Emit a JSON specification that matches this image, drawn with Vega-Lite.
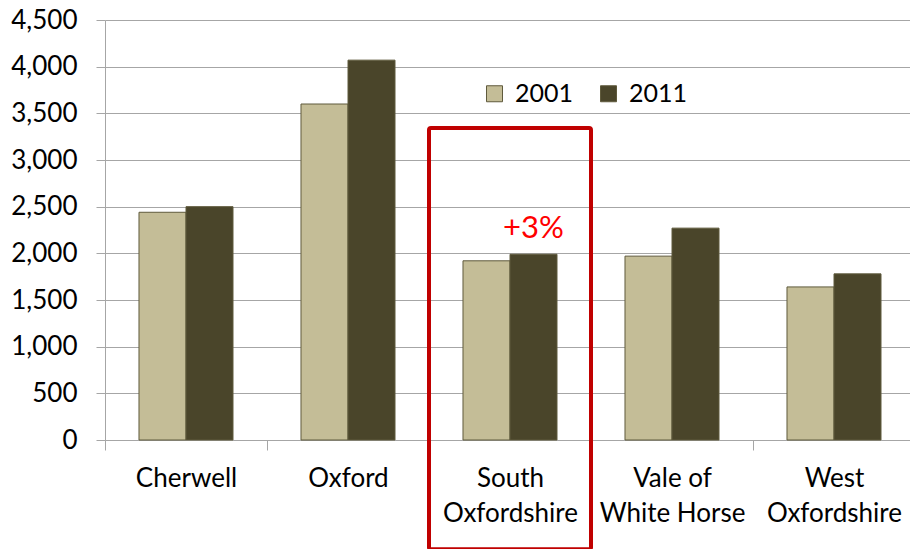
{
  "$schema": "https://vega.github.io/schema/vega-lite/v6.json",
  "width": 810,
  "height": 420,
  "autosize": {"type": "none"},
  "padding": {"left": 105, "top": 20, "right": 0, "bottom": 109},
  "background": "white",
  "config": {
    "view": {"stroke": null},
    "font": "Lato",
    "axis": {"labelFont": "Lato", "labelColor": "#000000"}
  },
  "layer": [
    {
      "data": {
        "values": [
          {"district": "Cherwell", "year": "2001", "value": 2440},
          {"district": "Cherwell", "year": "2011", "value": 2500},
          {"district": "Oxford", "year": "2001", "value": 3600},
          {"district": "Oxford", "year": "2011", "value": 4070},
          {"district": "South Oxfordshire", "year": "2001", "value": 1920},
          {"district": "South Oxfordshire", "year": "2011", "value": 1990},
          {"district": "Vale of White Horse", "year": "2001", "value": 1970},
          {"district": "Vale of White Horse", "year": "2011", "value": 2270},
          {"district": "West Oxfordshire", "year": "2001", "value": 1640},
          {"district": "West Oxfordshire", "year": "2011", "value": 1780}
        ]
      },
      "mark": {"type": "bar", "stroke": "#5f5a3c", "strokeWidth": 1},
      "encoding": {
        "x": {
          "field": "district",
          "type": "nominal",
          "sort": ["Cherwell", "Oxford", "South Oxfordshire", "Vale of White Horse", "West Oxfordshire"],
          "scale": {"paddingInner": 0, "paddingOuter": 0},
          "axis": {
            "title": null,
            "labelAngle": 0,
            "labelFontSize": 26,
            "labelLineHeight": 35,
            "labelBaseline": "top",
            "labelPadding": 15,
            "labelExpr": "datum.label == 'South Oxfordshire' ? ['South', 'Oxfordshire'] : datum.label == 'Vale of White Horse' ? ['Vale of', 'White Horse'] : datum.label == 'West Oxfordshire' ? ['West', 'Oxfordshire'] : datum.label",
            "tickBand": "extent",
            "tickSize": 10,
            "tickColor": "#a6a6a6",
            "domainColor": "#a6a6a6",
            "grid": false
          }
        },
        "xOffset": {
          "field": "year",
          "type": "nominal",
          "scale": {"paddingInner": 0, "paddingOuter": 0.7234}
        },
        "y": {
          "field": "value",
          "type": "quantitative",
          "scale": {"domain": [0, 4500], "nice": false},
          "axis": {
            "title": null,
            "values": [0, 500, 1000, 1500, 2000, 2500, 3000, 3500, 4000, 4500],
            "format": ",d",
            "labelFontSize": 26,
            "labelPadding": 19,
            "tickSize": 9,
            "tickColor": "#a6a6a6",
            "domainColor": "#a6a6a6",
            "gridColor": "#a6a6a6",
            "gridOpacity": 1
          }
        },
        "color": {
          "field": "year",
          "type": "nominal",
          "scale": {"domain": ["2001", "2011"], "range": ["#c4bd97", "#4a452a"]},
          "legend": {
            "title": null,
            "orient": "none",
            "direction": "horizontal",
            "legendX": 377,
            "legendY": 61,
            "symbolType": "square",
            "symbolSize": 256,
            "symbolStrokeColor": "#5f5a3c",
            "symbolStrokeWidth": 1,
            "symbolOpacity": 1,
            "labelFontSize": 25,
            "labelOffset": 8,
            "columnPadding": 22,
            "labelColor": "#000000"
          }
        }
      }
    },
    {
      "data": {"values": [{"district": "South Oxfordshire", "top": 3343, "bottom": -1170}]},
      "mark": {"type": "rect", "fill": "transparent", "stroke": "#c00000", "strokeWidth": 4, "cornerRadius": 2, "clip": false},
      "encoding": {
        "x": {"field": "district", "type": "nominal"},
        "y": {"field": "top", "type": "quantitative"},
        "y2": {"field": "bottom"}
      }
    },
    {
      "data": {"values": [{"district": "South Oxfordshire", "year": "2011", "label": "+3%", "value": 2165}]},
      "mark": {"type": "text", "color": "#ff0000", "fontSize": 31, "font": "Lato", "baseline": "alphabetic", "align": "center"},
      "encoding": {
        "x": {"field": "district", "type": "nominal"},
        "xOffset": {"field": "year", "type": "nominal"},
        "y": {"field": "value", "type": "quantitative"},
        "text": {"field": "label"}
      }
    }
  ]
}
